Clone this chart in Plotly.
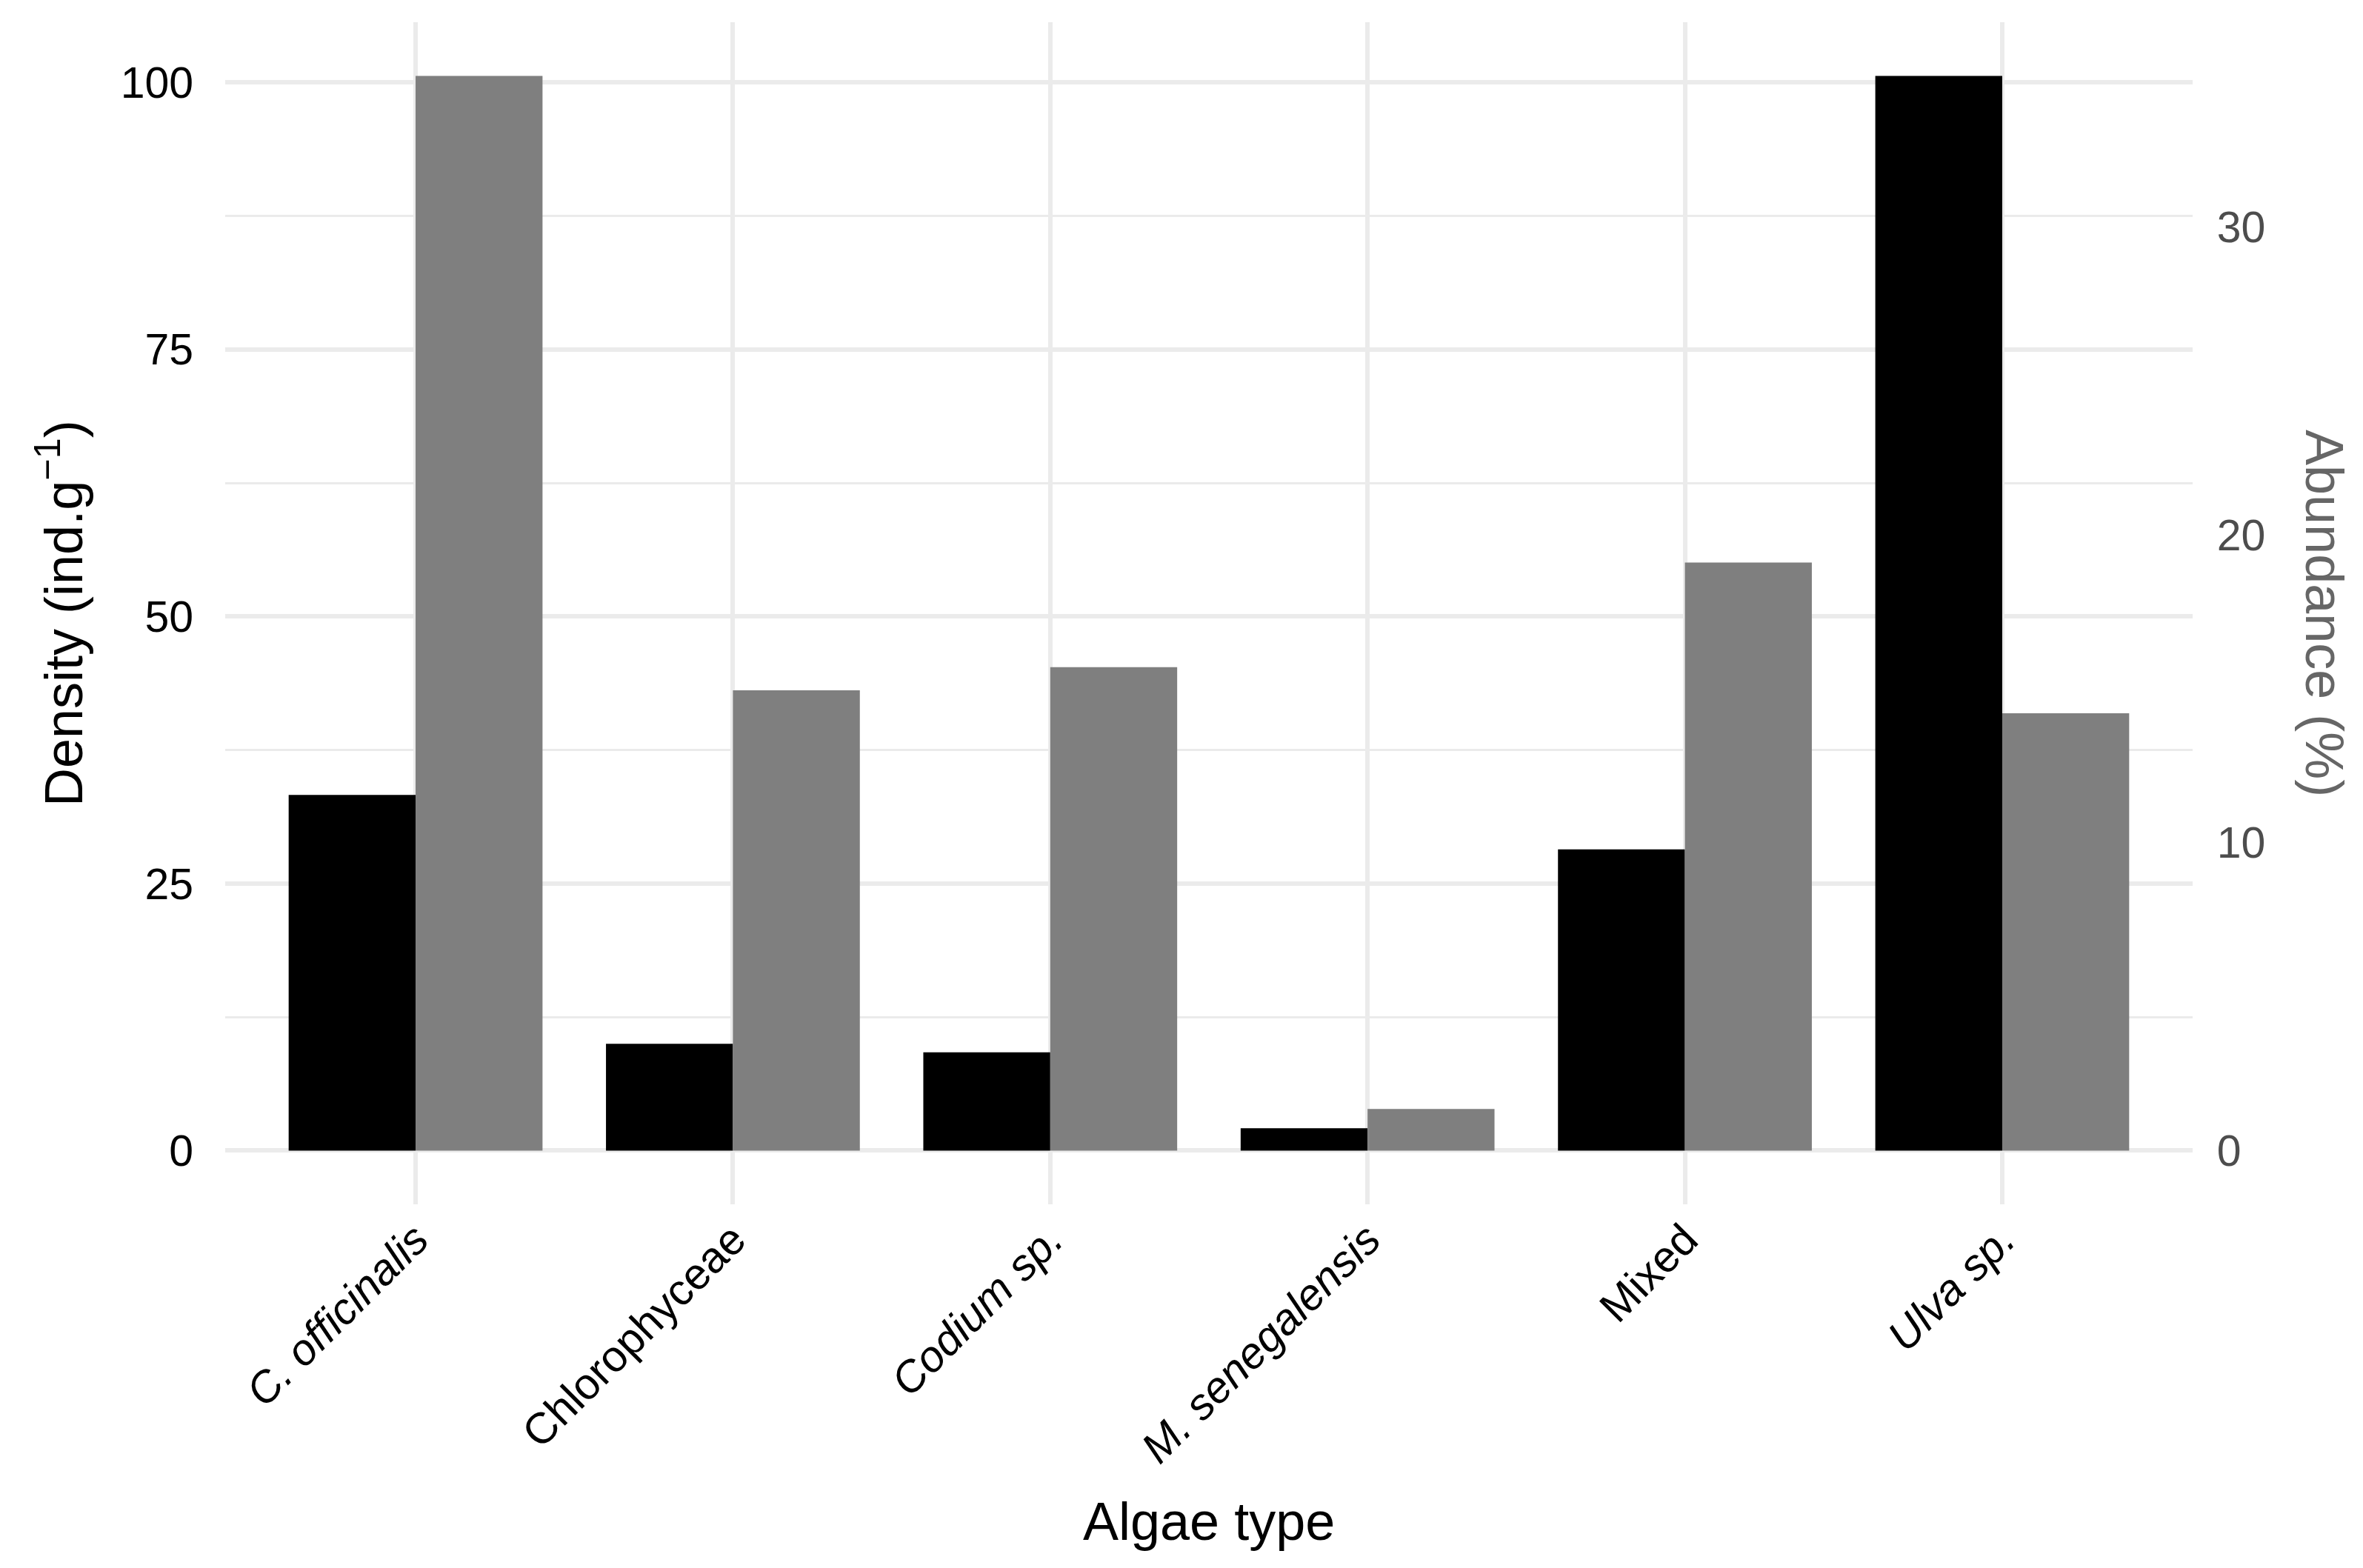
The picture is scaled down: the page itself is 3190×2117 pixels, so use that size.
import plotly.graph_objects as go

# ---- data ----
categories = ["C. officinalis", "Chlorophyceae", "Codium sp.", "M. senegalensis", "Mixed", "Ulva sp."]
tick_labels = ["<i>C. officinalis</i>", "Chlorophyceae", "<i>Codium sp.</i>",
               "<i>M. senegalensis</i>", "Mixed", "<i>Ulva sp.</i>"]
density = [33.3, 10.0, 9.2, 2.1, 28.2, 100.6]          # ind.g^-1 (left axis, black)
abundance = [34.9, 14.95, 15.7, 1.35, 19.1, 14.2]       # % (right axis, grey)
density_ticks = [0, 25, 50, 75, 100]
abundance_ticks = [0, 10, 20, 30]

W, H = 3190, 2117
ML, MR, MT, MB = 296, 238, 22, 499
FONT = "Liberation Sans"
GRID = "#EBEBEB"

# secondary axis scaled so that the max of both series coincide (ggplot sec_axis style)
scale = max(density) / max(abundance)
top = max(density)
y1_range = [-0.05 * top, 1.05 * top]
y2_range = [v / scale for v in y1_range]

fig = go.Figure()
fig.add_trace(go.Bar(
    x=categories, y=density, name="Density",
    marker=dict(color="#000000", line=dict(width=0)),
    width=0.4, offset=-0.4, yaxis="y",
))
fig.add_trace(go.Bar(
    x=categories, y=abundance, name="Abundance",
    marker=dict(color="#7F7F7F", line=dict(width=0)),
    width=0.4, offset=0.0, yaxis="y2",
))

fig.update_layout(
    width=W, height=H,
    margin=dict(l=ML, r=MR, t=MT, b=MB, autoexpand=False),
    paper_bgcolor="white", plot_bgcolor="white",
    barmode="overlay", showlegend=False,
    font=dict(family=FONT, size=59, color="#000000"),
    xaxis=dict(
        type="category", range=[-0.6, len(categories) - 0.4],
        tickmode="array", tickvals=categories, ticktext=tick_labels,
        tickangle=-45, tickfont=dict(family=FONT, size=59, color="#000000"),
        showgrid=True, gridcolor=GRID, gridwidth=6,
        ticks="", showline=False, zeroline=False,
    ),
    yaxis=dict(
        range=y1_range, tickmode="array", tickvals=density_ticks,
        tickfont=dict(family=FONT, size=59, color="#000000"),
        showgrid=True, gridcolor=GRID, gridwidth=6, zeroline=False,
        minor=dict(dtick=12.5, tick0=0, showgrid=True, gridcolor=GRID, gridwidth=3, ticks=""),
        ticks="outside", ticklen=30, tickcolor="rgba(0,0,0,0)",
        showline=False,
    ),
    yaxis2=dict(
        range=y2_range, overlaying="y", side="right",
        tickmode="array", tickvals=abundance_ticks,
        tickfont=dict(family=FONT, size=59, color="#4D4D4D"),
        showgrid=False, zeroline=False, showline=False,
        ticks="outside", ticklen=20, tickcolor="rgba(0,0,0,0)",
    ),
    annotations=[
        dict(text="Algae type", xref="paper", yref="paper", x=0.5, y=0,
             xanchor="center", yanchor="middle", yshift=-428, showarrow=False,
             font=dict(family=FONT, size=72, color="#000000")),
        dict(text="Density (ind.g<sup>−1</sup>)", xref="paper", yref="paper",
             x=(72 - ML) / (W - ML - MR), y=0.5, xanchor="center", yanchor="middle",
             textangle=-90, showarrow=False,
             font=dict(family=FONT, size=72, color="#000000")),
        dict(text="Abundance (%)", xref="paper", yref="paper",
             x=(3130 - ML) / (W - ML - MR), y=0.5, xanchor="center", yanchor="middle",
             textangle=90, showarrow=False,
             font=dict(family=FONT, size=72, color="#666666")),
    ],
)

fig.write_html("out.html")
